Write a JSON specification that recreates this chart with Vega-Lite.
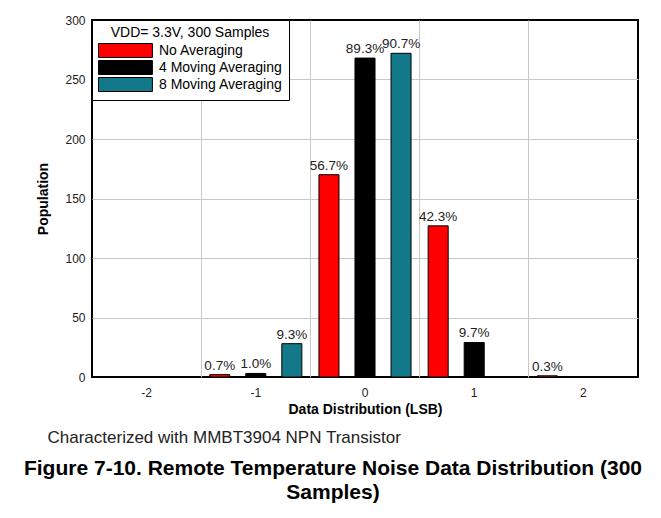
{
  "$schema": "https://vega.github.io/schema/vega-lite/v6.json",
  "width": 546,
  "height": 357,
  "autosize": {"type": "none"},
  "padding": {"left": 92, "top": 20, "right": 23, "bottom": 141},
  "background": "white",
  "config": {
    "font": "Liberation Sans",
    "view": {"stroke": "black", "strokeWidth": 2},
    "axis": {"labelFont": "Liberation Sans", "titleFont": "Liberation Sans", "labelColor": "#222", "titleColor": "black"}
  },
  "data": {
    "values": [
      {"lsb": -1, "series": "No Averaging", "count": 2, "label": "0.7%"},
      {"lsb": 0, "series": "No Averaging", "count": 170, "label": "56.7%"},
      {"lsb": 1, "series": "No Averaging", "count": 127, "label": "42.3%"},
      {"lsb": 2, "series": "No Averaging", "count": 1, "label": "0.3%"},
      {"lsb": -1, "series": "4 Moving Averaging", "count": 3, "label": "1.0%"},
      {"lsb": 0, "series": "4 Moving Averaging", "count": 268, "label": "89.3%"},
      {"lsb": 1, "series": "4 Moving Averaging", "count": 29, "label": "9.7%"},
      {"lsb": -1, "series": "8 Moving Averaging", "count": 28, "label": "9.3%"},
      {"lsb": 0, "series": "8 Moving Averaging", "count": 272, "label": "90.7%"}
    ]
  },
  "title": {
    "text": ["Figure 7-10. Remote Temperature Noise Data Distribution (300", "Samples)"],
    "orient": "bottom",
    "anchor": "middle",
    "frame": "group",
    "font": "Liberation Sans",
    "fontSize": 21,
    "fontWeight": "bold",
    "color": "black",
    "lineHeight": 24,
    "offset": 13,
    "dx": -32
  },
  "encoding": {
    "x": {
      "field": "lsb",
      "type": "ordinal",
      "scale": {"type": "band", "domain": [-2, -1, 0, 1, 2], "paddingInner": 0, "paddingOuter": 0}
    },
    "xOffset": {
      "field": "series",
      "type": "nominal",
      "scale": {"domain": ["No Averaging", "4 Moving Averaging", "8 Moving Averaging"], "paddingInner": 0.444, "paddingOuter": 0.237}
    },
    "y": {
      "field": "count",
      "type": "quantitative",
      "scale": {"domain": [0, 300], "nice": false}
    }
  },
  "layer": [
    {
      "mark": {"type": "bar", "stroke": "black", "strokeWidth": 1},
      "encoding": {
        "x": {
          "field": "lsb",
          "type": "ordinal",
          "axis": {
            "orient": "bottom",
            "grid": false,
            "ticks": false,
            "domain": false,
            "labelAngle": 0,
            "labelFontSize": 12,
            "labelPadding": 10,
            "title": "Data Distribution (LSB)",
            "titleFontSize": 14,
            "titleFontWeight": "bold",
            "titlePadding": 4
          }
        },
        "y": {
          "field": "count",
          "type": "quantitative",
          "axis": {
            "values": [0, 50, 100, 150, 200, 250, 300],
            "grid": true,
            "gridColor": {"condition": {"test": "datum.value < 1 || datum.value > 299", "value": "transparent"}, "value": "#c8c8c8"},
            "ticks": false,
            "domain": false,
            "labelFontSize": 12,
            "labelPadding": 7,
            "title": "Population",
            "titleFontSize": 14,
            "titleFontWeight": "bold",
            "titlePadding": 14
          }
        },
        "color": {
          "field": "series",
          "type": "nominal",
          "scale": {"domain": ["No Averaging", "4 Moving Averaging", "8 Moving Averaging"], "range": ["#ff0000", "#000000", "#137889"]},
          "legend": {
            "orient": "top-left",
            "offset": 0,
            "title": "VDD= 3.3V, 300 Samples",
            "titleFontWeight": "normal",
            "titleFontSize": 14,
            "titleColor": "black",
            "titleAnchor": "middle",
            "titlePadding": 3,
            "labelFontSize": 14,
            "labelColor": "black",
            "labelOffset": 46,
            "symbolType": "M-1,-1H6.7V1H-1Z",
            "symbolSize": 196,
            "symbolStrokeColor": "black",
            "symbolStrokeWidth": 1,
            "symbolOpacity": 1,
            "rowPadding": -5,
            "strokeColor": "black",
            "fillColor": "white",
            "padding": 6
          }
        }
      }
    },
    {
      "mark": {"type": "text", "baseline": "alphabetic", "dy": -5, "fontSize": 13.5, "color": "#222"},
      "encoding": {
        "x": {
          "field": "lsb",
          "type": "ordinal",
          "axis": {
            "orient": "bottom",
            "offset": 44,
            "bandPosition": 0,
            "grid": true,
            "gridColor": {"condition": {"test": "datum.value < -1.5", "value": "transparent"}, "value": "#c8c8c8"},
            "labels": false,
            "ticks": false,
            "domain": false,
            "title": "Characterized with MMBT3904 NPN Transistor",
            "titleFontSize": 17,
            "titleFontWeight": "normal",
            "titleColor": "#222",
            "titleAnchor": "start",
            "titleAlign": "left",
            "titleX": -45,
            "titlePadding": 8
          }
        },
        "text": {"field": "label"}
      }
    }
  ],
  "resolve": {"axis": {"x": "independent"}}
}
